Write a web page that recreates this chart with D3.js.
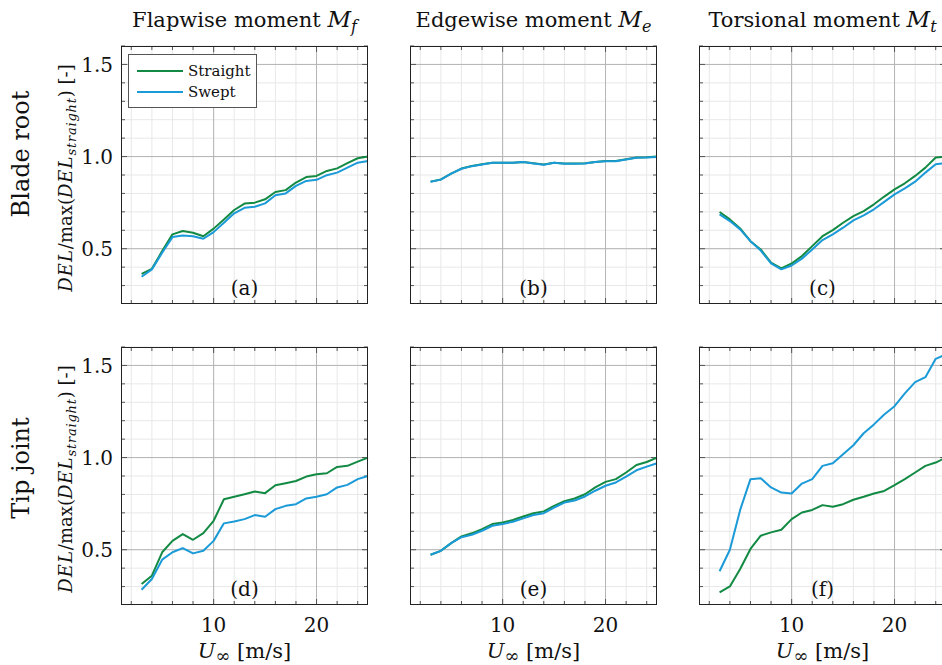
<!DOCTYPE html>
<html><head><meta charset="utf-8">
<script src="https://cdn.jsdelivr.net/npm/d3@7"></script>
<style>
html,body{margin:0;padding:0;background:#fff;overflow:hidden;}
svg text{font-family:"DejaVu Serif",serif;fill:#111;}
</style></head>
<body><svg id="chart" width="942" height="665"></svg>
<script>
// ---------- DATA ----------
const windSpeeds = [3,4,5,6,7,8,9,10,11,12,13,14,15,16,17,18,19,20,21,22,23,24,25];
const seriesNames = ["Straight","Swept"];
const columnTitles = ["Flapwise moment","Edgewise moment","Torsional moment"];
const columnSubscripts = ["f","e","t"];
const rowLabels = ["Blade root","Tip joint"];
const panelLetters = ["(a)","(b)","(c)","(d)","(e)","(f)"];
const xTickLabels = [10,20];
const yTickLabels = [0.5,1.0,1.5];

const rootFlapStraight = [0.364,0.391,0.487,0.578,0.596,0.587,0.568,0.609,0.659,0.710,0.745,0.750,0.768,0.808,0.818,0.859,0.889,0.895,0.922,0.936,0.964,0.991,1.000];
const rootFlapSwept    = [0.348,0.388,0.478,0.563,0.572,0.568,0.554,0.590,0.641,0.692,0.722,0.728,0.746,0.790,0.800,0.841,0.868,0.874,0.899,0.913,0.940,0.967,0.976];
const rootEdgeStraight = [0.864,0.876,0.908,0.935,0.949,0.958,0.967,0.967,0.967,0.971,0.964,0.957,0.967,0.962,0.962,0.964,0.971,0.976,0.976,0.985,0.995,0.996,1.000];
const rootEdgeSwept    = [0.863,0.875,0.907,0.934,0.948,0.957,0.966,0.966,0.966,0.970,0.963,0.956,0.966,0.961,0.961,0.963,0.970,0.975,0.975,0.984,0.994,0.995,0.998];
const rootTorsStraight = [0.699,0.659,0.610,0.541,0.496,0.424,0.393,0.420,0.460,0.514,0.568,0.601,0.641,0.677,0.704,0.741,0.783,0.822,0.855,0.895,0.940,0.995,1.000];
const rootTorsSwept    = [0.686,0.650,0.605,0.541,0.490,0.420,0.388,0.409,0.446,0.496,0.547,0.578,0.614,0.654,0.681,0.714,0.754,0.795,0.827,0.864,0.913,0.958,0.965];
const tipFlapStraight  = [0.314,0.359,0.486,0.548,0.585,0.554,0.590,0.657,0.774,0.787,0.801,0.816,0.807,0.850,0.861,0.873,0.897,0.910,0.915,0.949,0.955,0.978,1.000];
const tipFlapSwept     = [0.283,0.341,0.446,0.486,0.509,0.480,0.494,0.548,0.643,0.653,0.666,0.688,0.679,0.720,0.738,0.747,0.778,0.787,0.801,0.838,0.852,0.883,0.900];
const tipEdgeStraight  = [0.473,0.494,0.536,0.572,0.589,0.612,0.639,0.648,0.661,0.680,0.698,0.708,0.738,0.763,0.778,0.801,0.838,0.868,0.883,0.919,0.960,0.976,1.000];
const tipEdgeSwept     = [0.473,0.494,0.536,0.568,0.581,0.603,0.630,0.639,0.652,0.670,0.688,0.698,0.729,0.756,0.767,0.789,0.820,0.847,0.865,0.897,0.931,0.951,0.969];
const tipTorsStraight  = [0.269,0.301,0.395,0.504,0.576,0.594,0.608,0.666,0.702,0.716,0.742,0.733,0.747,0.771,0.787,0.805,0.819,0.850,0.883,0.919,0.955,0.973,1.000];
const tipTorsSwept     = [0.383,0.500,0.716,0.883,0.888,0.838,0.810,0.805,0.859,0.883,0.955,0.969,1.018,1.067,1.132,1.180,1.234,1.279,1.348,1.409,1.436,1.536,1.560];

const panelData = [
  [rootFlapStraight, rootFlapSwept],
  [rootEdgeStraight, rootEdgeSwept],
  [rootTorsStraight, rootTorsSwept],
  [tipFlapStraight, tipFlapSwept],
  [tipEdgeStraight, tipEdgeSwept],
  [tipTorsStraight, tipTorsSwept]
];

// ---------- STYLE / LAYOUT ----------
const colors = ["#128a43","#1b9ad8"];
const colLeft = [121, 410, 699];
const panelW = 247;
const rowTop = [46, 347];
const panelH = 258;
const xDomain = [1,25];
const yDomain = [0.2,1.6];

const svg = d3.select("#chart");

function panel(i){
  const r = Math.floor(i/3), c = i%3;
  const x0 = colLeft[c], y0 = rowTop[r];
  const x = d3.scaleLinear().domain(xDomain).range([x0, x0+panelW]);
  const y = d3.scaleLinear().domain(yDomain).range([y0+panelH, y0]);
  const g = svg.append("g");

  const xMinor = d3.range(2, 25, 2);
  const yMinor = d3.range(3, 17).map(v => v/10);
  // minor grid
  g.append("g").selectAll("line").data(xMinor).join("line")
    .attr("x1", d=>x(d)).attr("x2", d=>x(d)).attr("y1", y0).attr("y2", y0+panelH)
    .attr("stroke", "#e8e8e8").attr("stroke-width", 1);
  g.append("g").selectAll("line").data(yMinor).join("line")
    .attr("x1", x0).attr("x2", x0+panelW).attr("y1", d=>y(d)).attr("y2", d=>y(d))
    .attr("stroke", "#e8e8e8").attr("stroke-width", 1);
  // major grid
  g.append("g").selectAll("line").data(xTickLabels).join("line")
    .attr("x1", d=>x(d)).attr("x2", d=>x(d)).attr("y1", y0).attr("y2", y0+panelH)
    .attr("stroke", "#b4b4b4").attr("stroke-width", 1);
  g.append("g").selectAll("line").data(yTickLabels).join("line")
    .attr("x1", x0).attr("x2", x0+panelW).attr("y1", d=>y(d)).attr("y2", d=>y(d))
    .attr("stroke", "#b4b4b4").attr("stroke-width", 1);

  // ticks (inside, all four sides)
  const tickCol = "#555";
  const xt = xMinor.map(d=>({v:d, len: xTickLabels.includes(d)?6:4}));
  const yt = yMinor.map(d=>({v:d, len: yTickLabels.some(t=>Math.abs(t-d)<1e-6)?6:4}));
  g.append("g").selectAll("line").data(xt).join("line")
    .attr("x1", d=>x(d.v)).attr("x2", d=>x(d.v)).attr("y1", y0+panelH).attr("y2", d=>y0+panelH-d.len)
    .attr("stroke", tickCol);
  g.append("g").selectAll("line").data(xt).join("line")
    .attr("x1", d=>x(d.v)).attr("x2", d=>x(d.v)).attr("y1", y0).attr("y2", d=>y0+d.len)
    .attr("stroke", tickCol);
  g.append("g").selectAll("line").data(yt).join("line")
    .attr("x1", x0).attr("x2", d=>x0+d.len).attr("y1", d=>y(d.v)).attr("y2", d=>y(d.v))
    .attr("stroke", tickCol);
  g.append("g").selectAll("line").data(yt).join("line")
    .attr("x1", x0+panelW).attr("x2", d=>x0+panelW-d.len).attr("y1", d=>y(d.v)).attr("y2", d=>y(d.v))
    .attr("stroke", tickCol);

  // lines
  const line = d3.line().x((d,k)=>x(windSpeeds[k])).y(d=>y(d));
  panelData[i].forEach((vals, s) => {
    g.append("path").datum(vals).attr("d", line)
      .attr("fill","none").attr("stroke", colors[s]).attr("stroke-width", 2)
      .attr("stroke-linejoin","round");
  });

  // frame
  g.append("rect").attr("x", x0+0.5).attr("y", y0+0.5).attr("width", panelW-1).attr("height", panelH-1)
    .attr("fill","none").attr("stroke","#222").attr("stroke-width",1);

  // panel letter
  g.append("text").attr("x", x0+panelW/2).attr("y", y0+panelH-9)
    .attr("text-anchor","middle").attr("font-size", 20).text(panelLetters[i]);

  // y tick labels
  if (c === 0) {
    g.append("g").selectAll("text").data(yTickLabels).join("text")
      .attr("x", x0-8).attr("y", d=>y(d)).attr("dy","0.36em")
      .attr("text-anchor","end").attr("font-size", 20).text(d=>d.toFixed(1));
    // y axis title
    const yt2 = g.append("text").attr("transform", `translate(72,${y0+panelH/2 + 3}) rotate(-90)`)
      .attr("text-anchor","middle").attr("font-size", 18);
    yt2.append("tspan").attr("font-style","italic").attr("letter-spacing", 1).text("DEL");
    yt2.append("tspan").text("/max(");
    yt2.append("tspan").attr("font-style","italic").attr("letter-spacing", 1).text("DEL");
    yt2.append("tspan").attr("font-style","italic").attr("font-size", 13).attr("letter-spacing", 0.8).attr("dy", 4).text("straight");
    yt2.append("tspan").attr("dy", -4).text(") [-]");
    // row label
    g.append("text").attr("transform", `translate(29,${y0+panelH/2 - (r===0?21:8)}) rotate(-90)`)
      .attr("text-anchor","middle").attr("font-size", 24).text(rowLabels[r]);
  }
  // x tick labels + title
  if (r === 1) {
    g.append("g").selectAll("text").data(xTickLabels).join("text")
      .attr("x", d=>x(d)).attr("y", y0+panelH+27)
      .attr("text-anchor","middle").attr("font-size", 20).text(d=>d);
    const xt2 = g.append("text").attr("x", x0+panelW/2).attr("y", y0+panelH+53)
      .attr("text-anchor","middle").attr("font-size", 21);
    xt2.append("tspan").attr("font-style","italic").text("U");
    xt2.append("tspan").attr("font-size", 18).attr("dy", 4).text("∞");
    xt2.append("tspan").attr("dy", -4).text(" [m/s]");
  }
  // column titles
  if (r === 0) {
    const t = g.append("text").attr("x", x0+panelW/2).attr("y", 27)
      .attr("text-anchor","middle").attr("font-size", 21);
    t.append("tspan").text(columnTitles[c] + " ");
    t.append("tspan").attr("font-style","italic").attr("font-size", 23).text("M");
    t.append("tspan").attr("font-style","italic").attr("font-size", 16).attr("dy", 5).text(columnSubscripts[c]);
  }
  return {x, y, g};
}

const panels = d3.range(6).map(panel);

// legend in panel (a)
const lg = panels[0].g.append("g");
lg.append("rect").attr("x", 128.5).attr("y", 54.5).attr("width", 128).attr("height", 53)
  .attr("fill","#fff").attr("stroke","#555").attr("stroke-width",1);
seriesNames.forEach((nm, s) => {
  const yy = 71 + s*21;
  lg.append("line").attr("x1", 137).attr("x2", 183).attr("y1", yy).attr("y2", yy)
    .attr("stroke", colors[s]).attr("stroke-width", 2);
  lg.append("text").attr("x", 188).attr("y", yy).attr("dy","0.35em")
    .attr("font-size", 15).text(nm);
});
</script></body></html>
